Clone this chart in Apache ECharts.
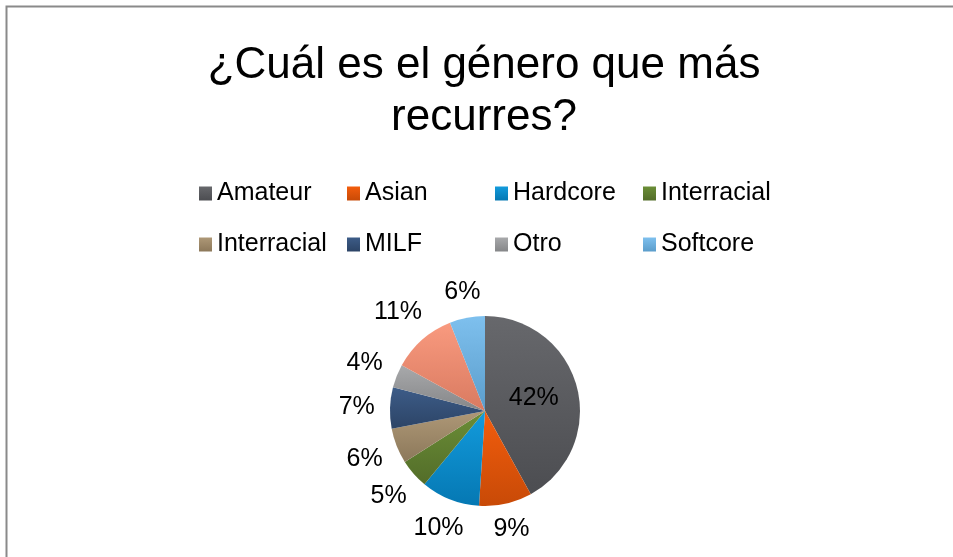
<!DOCTYPE html>
<html>
<head>
<meta charset="utf-8">
<script src="https://cdn.jsdelivr.net/npm/echarts@6/dist/echarts.min.js"></script>
<style>
html,body{margin:0;padding:0;background:#fff;}
#chart{width:953px;height:557px;}
</style>
</head>
<body>
<div id="chart"></div>
<script>
const titleText = '¿Cuál es el género que más\nrecurres?';
const categories = ['Amateur', 'Asian', 'Hardcore', 'Interracial', 'Interracial ', 'MILF', 'Otro', 'Sin leyenda', 'Softcore'];
const values = [42, 9, 10, 5, 6, 7, 4, 11, 6];
const legendItems = ['Amateur', 'Asian', 'Hardcore', 'Interracial', 'Interracial ', 'MILF', 'Otro', 'Softcore'];
const colorsTop = ['#67686c', '#f35d0d', '#139bdc', '#6b8e37', '#ae9877', '#3d5c88', '#a8a9ab', '#f99a7f', '#7ec0ee'];
const colorsBottom = ['#4c4d51', '#c84a07', '#0578b3', '#536d29', '#8c785a', '#2c4466', '#858688', '#d97a60', '#5b9dcb'];

const CX = 485, CY = 411, R = 95;
const total = values.reduce((a, b) => a + b, 0);
const starts = [];
values.reduce((acc, v) => { starts.push(acc); return acc + v; }, 0);

const chart = echarts.init(document.getElementById('chart'), null, {renderer: 'canvas'});
const FONT = '"Liberation Sans", Arial, sans-serif';

chart.setOption({
  animation: false,
  backgroundColor: '#ffffff',
  graphic: [{
    type: 'rect', left: 4, top: 4, silent: true,
    shape: {x: 0, y: 0, width: 1100, height: 700},
    style: {fill: 'none', stroke: '#8a8a8a', lineWidth: 2}
  }],
  title: {
    text: titleText,
    left: 484,
    top: 40,
    padding: 0,
    textAlign: 'center',
    textStyle: {fontFamily: FONT, fontSize: 44, fontWeight: 'normal', color: '#000', lineHeight: 52}
  },
  legend: {
    data: legendItems,
    left: 199,
    top: 174,
    width: 600,
    padding: 0,
    icon: 'rect',
    itemWidth: 13,
    itemHeight: 14,
    itemGap: 12,
    selectedMode: false,
    textStyle: {fontFamily: FONT, fontSize: 25, color: '#000', width: 118, lineHeight: 39, padding: [0, 0, 0, 0]}
  },
  series: [{
    type: 'pie',
    center: [CX, CY],
    radius: R,
    startAngle: 90,
    clockwise: true,
    avoidLabelOverlap: false,
    data: categories.map((name, i) => ({
      name: name,
      value: values[i],
      itemStyle: {
        color: new echarts.graphic.LinearGradient(0, 0, 0, 1, [
          {offset: 0, color: colorsTop[i]},
          {offset: 1, color: colorsBottom[i]}
        ])
      }
    })),
    label: {
      show: true,
      position: 'outside',
      formatter: '{d}%',
      fontFamily: FONT,
      fontSize: 25,
      color: '#000'
    },
    labelLine: {show: false, length: 10, length2: 0},
    emphasis: {disabled: true},
    labelLayout: function (p) {
      const i = p.dataIndex;
      const mid = (starts[i] + values[i] / 2) / total;
      const th = mid * Math.PI * 2;
      const dx = Math.sin(th), dy = -Math.cos(th);
      let dist;
      if (i === 0) {
        dist = R * 0.53;
      } else {
        const w = p.labelRect.width, h = p.labelRect.height;
        dist = 110 + (w / 2) * Math.abs(dx) + (h * 0.3) * Math.abs(dy);
      }
      return {x: CX + dist * dx, y: CY + dist * dy, align: 'center', verticalAlign: 'middle'};
    }
  }]
});
</script>
</body>
</html>
